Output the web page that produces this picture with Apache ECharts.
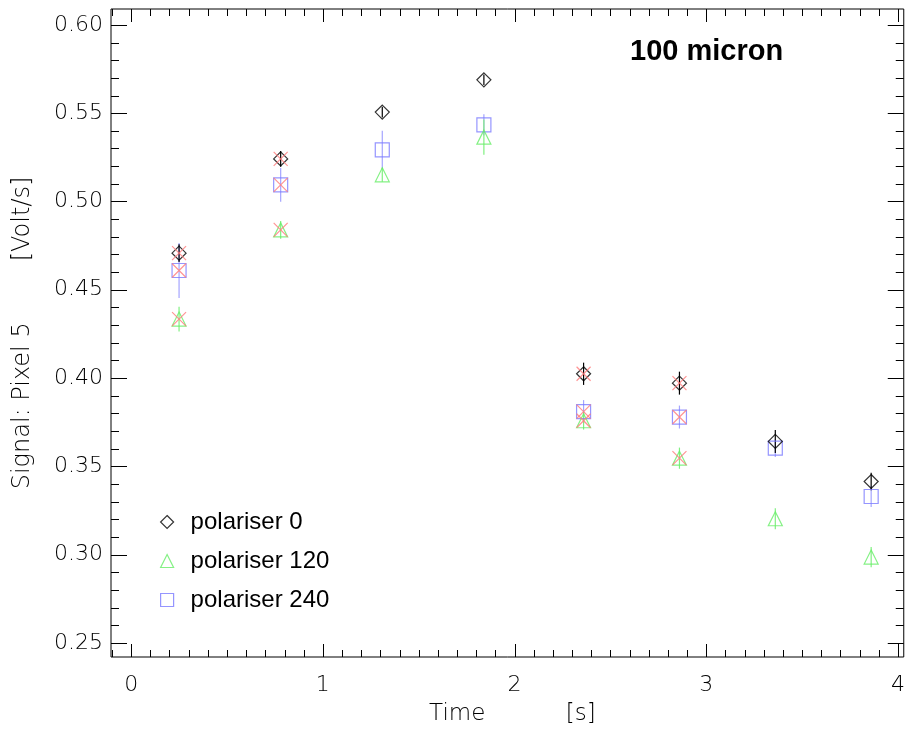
<!DOCTYPE html>
<html>
<head>
<meta charset="utf-8">
<script src="https://cdn.jsdelivr.net/npm/echarts@6/dist/echarts.min.js"></script>
<style>
  html, body { margin: 0; padding: 0; background: #ffffff; }
  #chart { width: 908px; height: 731px; }
</style>
</head>
<body>
<div id="chart"></div>
<script>
// Measurement times [s]
var time = [0.25, 0.78, 1.31, 1.84, 2.36, 2.86, 3.36, 3.86];

// Signal of pixel 5 for each polariser position [Volt/s]
var pol0     = [0.4707, 0.5241, 0.5506, 0.5689, 0.4024, 0.3971, 0.3641, 0.3414];
var pol0Err  = [0.0050, 0.0045, 0.0030, 0.0030, 0.0063, 0.0065, 0.0065, 0.0050];
var pol120    = [0.4334, 0.4839, 0.5151, 0.5364, 0.3758, 0.3546, 0.3203, 0.2986];
var pol120Err = [0.0070, 0.0050, 0.0040, 0.0100, 0.0050, 0.0060, 0.0060, 0.0057];
var pol240    = [0.4609, 0.5094, 0.5292, 0.5434, 0.3810, 0.3779, 0.3603, 0.3329];
var pol240Err = [0.0156, 0.0095, 0.0108, 0.0060, 0.0065, 0.0065, 0.0050, 0.0060];

// Points flagged with a red cross
var crossTime  = [0.25, 0.25, 0.25, 0.78, 0.78, 0.78, 2.36, 2.36, 2.36, 2.86, 2.86, 2.86];
var crossValue = [0.4707, 0.4609, 0.4334, 0.5241, 0.5094, 0.4839, 0.4024, 0.3810, 0.3758, 0.3971, 0.3779, 0.3546];

// Axis ticks
var xMajorTicks = [0, 1, 2, 3, 4];
var xTickLabels = ['0', '1', '2', '3', '4'];
var yMajorTicks = [0.25, 0.30, 0.35, 0.40, 0.45, 0.50, 0.55, 0.60];
var yTickLabels = ['0.25', '0.30', '0.35', '0.40', '0.45', '0.50', '0.55', '0.60'];

var X_MIN = -0.105, X_MAX = 4.03;
var Y_MIN = 0.242, Y_MAX = 0.609;

var xMinorTicks = [];
for (var i = -1; i <= 40; i++) { if (i % 10 !== 0) xMinorTicks.push(+(i / 10).toFixed(2)); }
var yMinorTicks = [];
for (var j = 25; j <= 60; j++) { if (j % 5 !== 0) yMinorTicks.push(+(j / 100).toFixed(2)); }

var tickFont = "'DejaVu Sans', sans-serif";
var textColor = '#000000';
var legendFont = "'Liberation Sans', Arial, sans-serif";

function pairs(xs, ys) { return xs.map(function (x, k) { return [x, ys[k]]; }); }
function bars(xs, ys, es) { return xs.map(function (x, k) { return [x, ys[k] - es[k], ys[k] + es[k]]; }); }

function errorSeries(data, color) {
  return {
    type: 'custom', silent: true, z: 1,
    renderItem: function (params, api) {
      var p1 = api.coord([api.value(0), api.value(1)]);
      var p2 = api.coord([api.value(0), api.value(2)]);
      return { type: 'line', shape: { x1: p1[0], y1: p1[1], x2: p2[0], y2: p2[1] },
               style: { stroke: color, lineWidth: 1.2 } };
    },
    encode: { x: 0, y: [1, 2] },
    data: data
  };
}

// Inward tick marks on all four sides of the frame.
// Each item: [x, y, side, length]; side 0 = bottom/top pair, 1 = left/right pair.
var tickData = [];
xMajorTicks.forEach(function (v) { tickData.push([v, Y_MIN, 0, 13]); });
xMinorTicks.forEach(function (v) { tickData.push([v, Y_MIN, 0, 7]); });
yMajorTicks.forEach(function (v) { tickData.push([X_MIN, v, 1, 16]); });
yMinorTicks.forEach(function (v) { tickData.push([X_MIN, v, 1, 8]); });

var tickSeries = {
  type: 'custom', silent: true, z: 5, clip: false,
  renderItem: function (params, api) {
    var side = api.value(2), len = api.value(3);
    var lines = [];
    if (side === 0) {
      var b = api.coord([api.value(0), Y_MIN]);
      var t = api.coord([api.value(0), Y_MAX]);
      var xp = Math.round(b[0]) + 0.5;
      lines.push({ type: 'line', shape: { x1: xp, y1: b[1], x2: xp, y2: b[1] - len }, style: { stroke: '#000', lineWidth: 1 } });
      lines.push({ type: 'line', shape: { x1: xp, y1: t[1], x2: xp, y2: t[1] + len }, style: { stroke: '#000', lineWidth: 1 } });
    } else {
      var l = api.coord([X_MIN, api.value(1)]);
      var r = api.coord([X_MAX, api.value(1)]);
      var yp = Math.round(l[1]) + 0.5;
      lines.push({ type: 'line', shape: { x1: l[0], y1: yp, x2: l[0] + len, y2: yp }, style: { stroke: '#000', lineWidth: 1 } });
      lines.push({ type: 'line', shape: { x1: r[0], y1: yp, x2: r[0] - len, y2: yp }, style: { stroke: '#000', lineWidth: 1 } });
    }
    return { type: 'group', children: lines };
  },
  encode: { x: 0, y: 1 },
  data: tickData
};

var chart = echarts.init(document.getElementById('chart'), null, { renderer: 'canvas' });

chart.setOption({
  animation: false,
  backgroundColor: '#ffffff',
  title: {
    text: '100 micron', left: 630, top: 37, padding: 0,
    textStyle: { fontFamily: legendFont, fontSize: 29, fontWeight: 'bold', color: '#000' }
  },
  grid: { left: 111, right: 2, top: 9, bottom: 74, show: true, borderColor: '#000', borderWidth: 1, backgroundColor: 'transparent' },
  legend: {
    orient: 'vertical', left: 160, top: 510, padding: 0, itemWidth: 13, itemHeight: 13, itemGap: 15,
    textStyle: { fontFamily: legendFont, fontSize: 24, color: '#000', padding: [0, 0, 0, 12] },
    data: [
      { name: 'polariser 0', icon: 'diamond', itemStyle: { color: 'rgba(0,0,0,0)', borderColor: '#000000', borderWidth: 1.2 } },
      { name: 'polariser 120', icon: 'triangle', itemStyle: { color: 'rgba(0,0,0,0)', borderColor: '#66ee66', borderWidth: 1.2 } },
      { name: 'polariser 240', icon: 'rect', itemStyle: { color: 'rgba(0,0,0,0)', borderColor: '#7b7bff', borderWidth: 1.2 } }
    ]
  },
  xAxis: {
    type: 'value', min: X_MIN, max: X_MAX, splitLine: { show: false },
    axisLine: { show: false, onZero: false }, axisTick: { show: false },
    axisLabel: { show: true, customValues: xMajorTicks, margin: 17, fontFamily: tickFont, fontWeight: 200, fontSize: 22, color: textColor,
      formatter: function (v) { var k = xMajorTicks.indexOf(+v.toFixed(2)); return k >= 0 ? xTickLabels[k] : ''; } },
    name: 'Time           [s]', nameLocation: 'middle', nameGap: 46,
    nameTextStyle: { fontFamily: tickFont, fontWeight: 200, fontSize: 23, color: textColor, padding: [0, 0, 0, 10] }
  },
  yAxis: {
    type: 'value', min: Y_MIN, max: Y_MAX, splitLine: { show: false },
    axisLine: { show: false, onZero: false }, axisTick: { show: false },
    axisLabel: { show: true, customValues: yMajorTicks, margin: 8, fontFamily: tickFont, fontWeight: 200, fontSize: 22, color: textColor,
      padding: [5, 0, 0, 0],
      formatter: function (v) { var k = yMajorTicks.indexOf(+v.toFixed(2)); return k >= 0 ? yTickLabels[k] : ''; } },
    name: 'Signal: Pixel 5        [Volt/s]', nameLocation: 'middle', nameGap: 76, nameRotate: 90,
    nameTextStyle: { fontFamily: tickFont, fontWeight: 200, fontSize: 24, color: textColor }
  },
  series: [
    tickSeries,
    errorSeries(bars(time, pol240, pol240Err), '#a4a4ff'),
    errorSeries(bars(time, pol120, pol120Err), '#80f080'),
    errorSeries(bars(time, pol0, pol0Err), '#000000'),
    { name: 'polariser 240', type: 'scatter', z: 2, symbol: 'rect', symbolSize: 14,
      itemStyle: { color: 'rgba(0,0,0,0)', borderColor: '#7b7bff', borderWidth: 1.2 }, data: pairs(time, pol240) },
    { name: 'polariser 120', type: 'scatter', z: 2, symbol: 'triangle', symbolSize: 14,
      itemStyle: { color: 'rgba(0,0,0,0)', borderColor: '#66ee66', borderWidth: 1.2 }, data: pairs(time, pol120) },
    { name: 'polariser 0', type: 'scatter', z: 3, symbol: 'diamond', symbolSize: 14,
      itemStyle: { color: 'rgba(0,0,0,0)', borderColor: '#000000', borderWidth: 1.2 }, data: pairs(time, pol0) },
    { name: 'flagged', type: 'scatter', z: 4, symbol: 'path://M0,0L10,10M10,0L0,10', symbolSize: 14,
      itemStyle: { color: 'rgba(0,0,0,0)', borderColor: '#ff7a7a', borderWidth: 1.2 }, data: pairs(crossTime, crossValue) }
  ]
});
</script>
</body>
</html>
